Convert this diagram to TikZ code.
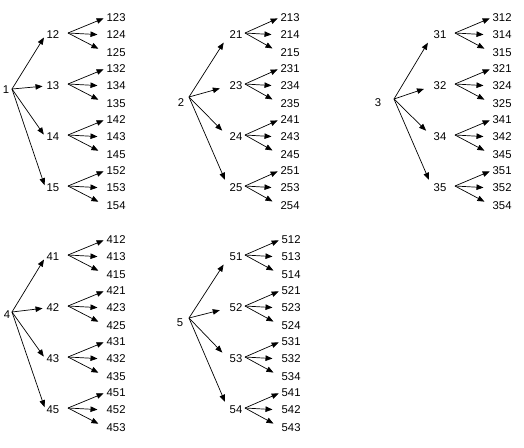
\documentclass[tikz,border=0pt]{standalone}
\usepackage{fontspec}
\setmainfont{Liberation Sans}
\usetikzlibrary{arrows.meta, positioning}

\begin{document}
\begin{tikzpicture}[
        x=1pt, y=-1pt,
        node distance=0pt,
        font=\fontsize{11.3}{13}\selectfont,
        top/.style={inner sep=1pt},
        mid/.style={inner sep=1pt},
        leaf/.style={inner xsep=1pt, inner ysep=0pt, minimum height=17pt},
        arrow/.style={-{Triangle[length=7pt,width=5.5pt]}, line width=0.7pt}
    ]
        \useasboundingbox (0,0) rectangle (524,447);

        % root / root position / fan point / child x / leaf gap / start shift / cut / top row / children
        \foreach \rt/\rx/\ry/\sx/\sy/\cx/\gap/\dx/\cut/\ty/\kids in {%
            1/6/90/12/89/53/45/15/3/18/{12/123/124/125,13/132/134/135,14/142/143/145,15/152/153/154},%
            2/181/103/189/97/236/36/9/9/18/{21/213/214/215,23/231/234/235,24/241/243/245,25/251/253/254},%
            3/378/103/394/99/440/44/15/9/18/{31/312/314/315,32/321/324/325,34/341/342/345,35/351/352/354},%
            4/7/315/12/312/53/45/15/3/240/{41/412/413/415,42/421/423/425,43/431/432/435,45/451/452/453},%
            5/180/323/189/318/236/37/9/9/240/{51/512/513/514,52/521/523/524,53/531/532/534,54/541/542/543}%
        }{
            \node[top] (n\rt) at (\rx,\ry) {\rt};
            \coordinate (s\rt) at (\sx,\sy);
            \foreach \kid/\la/\lb/\lc [count=\ci] in \kids {
                \pgfmathsetmacro\cy{\ty+17+51*(\ci-1)}
                \node[mid] (n\kid) at (\cx,\cy) {\kid};
                \node[leaf, right=\gap pt of n\kid] (n\lb) {\lb};
                \node[leaf, above=of n\lb] (n\la) {\la};
                \node[leaf, below=of n\lb] (n\lc) {\lc};
                \coordinate (s\kid) at (\cx+\dx,\cy-2);

                \draw[arrow, shorten >=\cut pt] (s\rt) -- (n\kid.west);
                \draw[arrow, shorten >=2pt] (s\kid) -- (n\la.west);
                \draw[arrow, shorten >=8pt] (s\kid) -- (n\lb.west);
                \draw[arrow, shorten >=8pt] (s\kid) -- (n\lc.west);
            }
        }
    \end{tikzpicture}
\end{document}
